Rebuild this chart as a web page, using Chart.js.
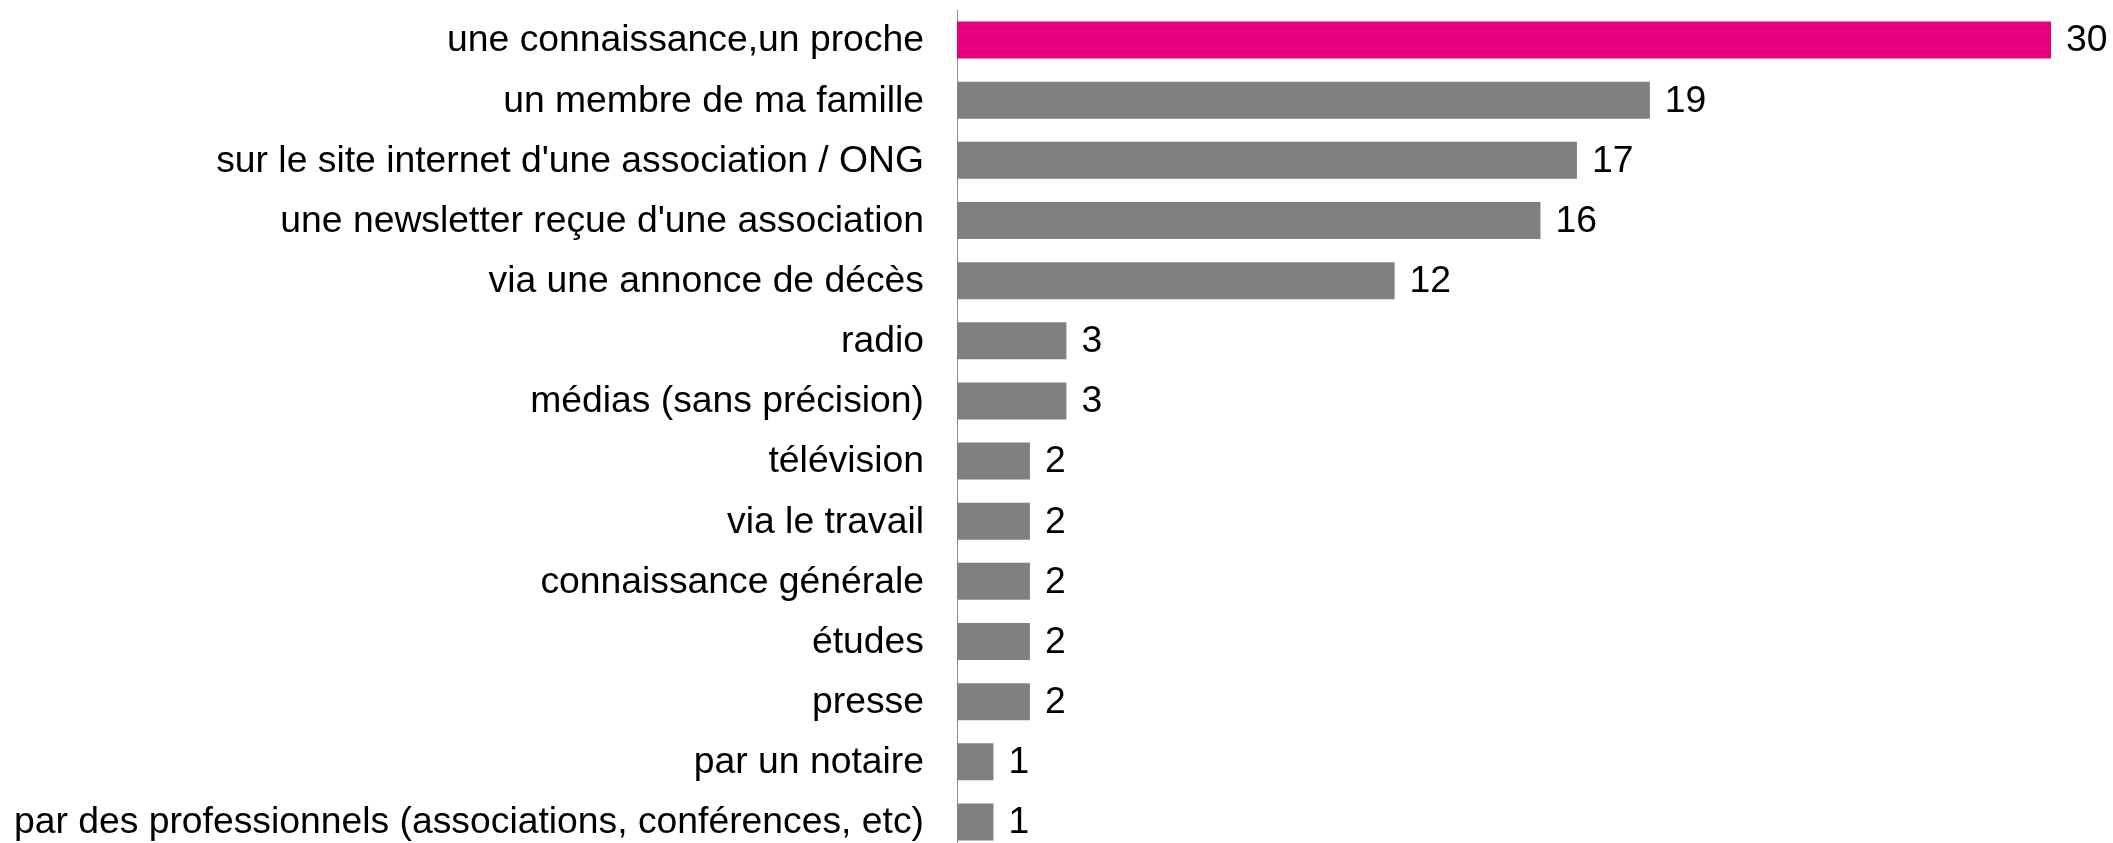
<!DOCTYPE html>
<html>
<head>
<meta charset="utf-8">
<script src="https://cdn.jsdelivr.net/npm/chart.js@4/dist/chart.umd.min.js"></script>
<style>
  html, body { margin: 0; padding: 0; background: #fff; overflow: hidden; }
  #wrap { width: 2113px; height: 852px; position: relative; }
</style>
</head>
<body>
<div id="wrap"><canvas id="chart"></canvas></div>
<script>
const categories = [
  "une connaissance,un proche",
  "un membre de ma famille",
  "sur le site internet d'une association / ONG",
  "une newsletter reçue d'une association",
  "via une annonce de décès",
  "radio",
  "médias (sans précision)",
  "télévision",
  "via le travail",
  "connaissance générale",
  "études",
  "presse",
  "par un notaire",
  "par des professionnels (associations, conférences, etc)"
];
const values = [30, 19, 17, 16, 12, 3, 3, 2, 2, 2, 2, 2, 1, 1];

const PINK = "#E6007E", GREY = "#808080";
const FONT = "'Liberation Sans', Arial, sans-serif";
const FS = 37.3;

// value labels at the end of each bar
const barLabels = {
  id: "barLabels",
  afterDatasetsDraw(chart) {
    const ctx = chart.ctx;
    const meta = chart.getDatasetMeta(0);
    ctx.save();
    ctx.font = FS + "px " + FONT;
    ctx.fillStyle = "#000";
    ctx.textBaseline = "middle";
    ctx.textAlign = "left";
    meta.data.forEach((bar, i) => {
      ctx.fillText(String(values[i]), bar.x + 15, bar.y + 1);
    });
    ctx.restore();
  }
};

new Chart(document.getElementById("chart"), {
  type: "bar",
  data: {
    labels: categories,
    datasets: [{
      data: values,
      backgroundColor: values.map((v, i) => (i === 0 ? PINK : GREY)),
      borderWidth: 0,
      categoryPercentage: 1,
      barPercentage: 0.615
    }]
  },
  options: {
    indexAxis: "y",
    responsive: true,
    maintainAspectRatio: false,
    animation: false,
    layout: { padding: { left: 0, right: 62, top: 10, bottom: 0 } },
    plugins: { legend: { display: false }, tooltip: { enabled: false } },
    scales: {
      x: { display: false, min: 0, max: 30 },
      y: {
        // fixed axis position, and no extra room for the first/last label
        afterFit: (s) => { s.width = 957; s.paddingTop = 0; s.paddingBottom = 0; },
        grid: { display: false, drawTicks: false },
        border: { display: true, color: "#8c8c8c", width: 1 },
        ticks: { color: "#000", padding: 33, labelOffset: 1, font: { family: FONT, size: FS } }
      }
    }
  },
  plugins: [barLabels]
});
</script>
</body>
</html>
